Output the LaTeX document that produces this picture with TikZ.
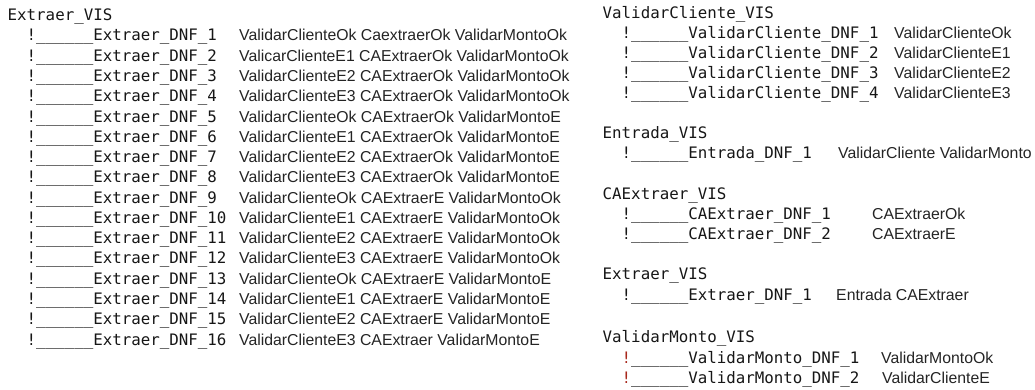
\documentclass[tikz,border=0pt]{standalone}
\usepackage{fontspec}
\newfontfamily\monofont{DejaVu Sans Mono}
\newfontfamily\labelfont{Liberation Sans}
\definecolor{ink}{HTML}{161616}
\definecolor{labelink}{HTML}{242424}
\definecolor{bangred}{HTML}{A8281C}
% "!______" branch marker in front of each DNF name
\newcommand\branchmark[1][ink]{\textcolor{#1}{!}\_\_\_\_\_\_}
\tikzset{
  vis/.style={anchor=base west, inner sep=0pt, text=ink,
    font=\monofont\fontsize{15.8}{18}\selectfont},
  dnf/.style={vis},
  terms/.style={anchor=base west, inner sep=0pt, text=labelink,
    font=\labelfont\fontsize{15.8}{18}\selectfont},
}
\begin{document}
\begin{tikzpicture}[x=1pt, y=-1pt]
\useasboundingbox (0,0) rectangle (1035,390);

% ---- left column: Extraer_VIS ----
\node[vis] (exvis) at (7.5,21) {Extraer\_VIS};
\foreach \i/\t in {
  1/{ValidarClienteOk CaextraerOk ValidarMontoOk},
  2/{ValicarClienteE1 CAExtraerOk ValidarMontoOk},
  3/{ValidarClienteE2 CAExtraerOk ValidarMontoOk},
  4/{ValidarClienteE3 CAExtraerOk ValidarMontoOk},
  5/{ValidarClienteOk CAExtraerOk ValidarMontoE},
  6/{ValidarClienteE1 CAExtraerOk ValidarMontoE},
  7/{ValidarClienteE2 CAExtraerOk ValidarMontoE},
  8/{ValidarClienteE3 CAExtraerOk ValidarMontoE},
  9/{ValidarClienteOk CAExtraerE ValidarMontoOk},
  10/{ValidarClienteE1 CAExtraerE ValidarMontoOk},
  11/{ValidarClienteE2 CAExtraerE ValidarMontoOk},
  12/{ValidarClienteE3 CAExtraerE ValidarMontoOk},
  13/{ValidarClienteOk CAExtraerE ValidarMontoE},
  14/{ValidarClienteE1 CAExtraerE ValidarMontoE},
  15/{ValidarClienteE2 CAExtraerE ValidarMontoE},
  16/{ValidarClienteE3 CAExtraer ValidarMontoE}} {
  \node[dnf] (exdnf\i) at (26.5,{41+(\i-1)*20.27}) {\branchmark Extraer\_DNF\_\i};
  \node[terms] (exterms\i) at (239,{41+(\i-1)*20.27}) {\t};
}

% ---- right column: ValidarCliente_VIS ----
\node[vis] (vcvis) at (602.5,19) {ValidarCliente\_VIS};
\foreach \i/\t/\y in {1/Ok/39, 2/E1/59, 3/E2/79, 4/E3/99} {
  \node[dnf] (vcdnf\i) at (621.5,\y) {\branchmark ValidarCliente\_DNF\_\i};
  \node[terms] (vcterms\i) at (894,\y) {ValidarCliente\t};
}

% ---- Entrada_VIS ----
\node[vis] (envis) at (602.5,139) {Entrada\_VIS};
\node[dnf] (endnf1) at (621.5,159) {\branchmark Entrada\_DNF\_1};
\node[terms] (enterms1) at (838,159) {ValidarCliente ValidarMonto};

% ---- CAExtraer_VIS ----
\node[vis] (cavis) at (602.5,199) {CAExtraer\_VIS};
\node[dnf] (cadnf1) at (621.5,219) {\branchmark CAExtraer\_DNF\_1};
\node[terms] (caterms1) at (872,219) {CAExtraerOk};
\node[dnf] (cadnf2) at (621.5,239) {\branchmark CAExtraer\_DNF\_2};
\node[terms] (caterms2) at (872,239) {CAExtraerE};

% ---- Extraer_VIS (top level) ----
\node[vis] (extvis) at (602.5,279) {Extraer\_VIS};
\node[dnf] (extdnf1) at (621.5,300) {\branchmark Extraer\_DNF\_1};
\node[terms] (extterms1) at (836,300) {Entrada CAExtraer};

% ---- ValidarMonto_VIS ----
\node[vis] (vmvis) at (602.5,342) {ValidarMonto\_VIS};
\node[dnf] (vmdnf1) at (621.5,363) {\branchmark[bangred]ValidarMonto\_DNF\_1};
\node[terms] (vmterms1) at (881,363) {ValidarMontoOk};
\node[dnf] (vmdnf2) at (621.5,383) {\branchmark[bangred]ValidarMonto\_DNF\_2};
\node[terms] (vmterms2) at (882,383) {ValidarClienteE};
\end{tikzpicture}
\end{document}
